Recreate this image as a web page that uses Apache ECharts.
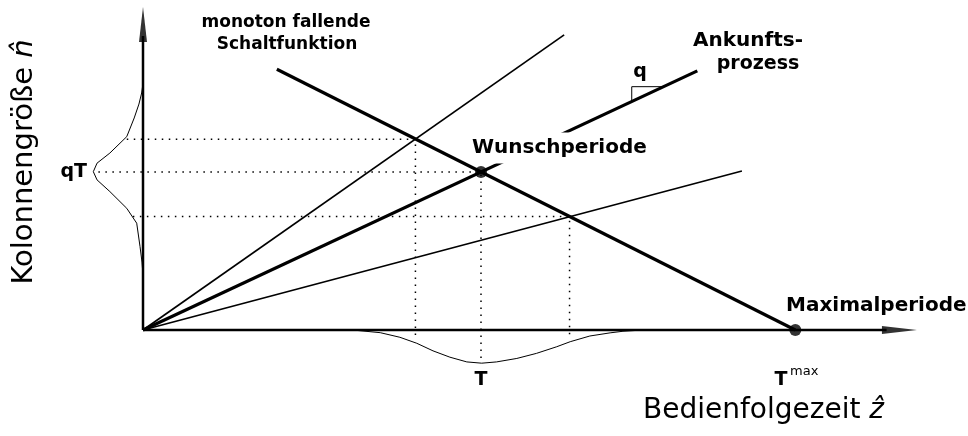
<!DOCTYPE html>
<html>
<head>
<meta charset="utf-8">
<script src="https://cdn.jsdelivr.net/npm/echarts@6/dist/echarts.min.js"></script>
<style>html,body{margin:0;padding:0;background:#fff}#c{width:968px;height:436px}</style>
</head>
<body>
<div id="c"></div>
<script>
// ---- data (x: Bedienfolgezeit units, y: Kolonnengröße units) ----
const T = 5, qT = 5, Tmax = 9.65;
const lineUpper   = [[0, 0], [6.23, 9.34]];     // thin, steep
const lineArrival = [[0, 0], [8.2, 8.2]];       // thick, slope q
const lineLower   = [[0, 0], [8.86, 5.03]];     // thin, flat
const lineSwitch  = [[1.98, 8.25], [9.65, 0]];  // monoton fallende Schaltfunktion
const markedPoints = [[T, qT], [Tmax, 0]];
const slopeTriangle = [[7.23, 7.23], [7.23, 7.7], [7.7, 7.7]];
const dottedLines = [
  [[-0.24, 6.04], [4.03, 6.04], [4.03, -0.3]],
  [[-0.66, 5.0], [5.0, 5.0], [5.0, -1.05]],
  [[-0.15, 3.59], [6.31, 3.59], [6.31, -0.17]]
];
const gaussX = [[3.1, 0], [3.51, -0.085], [3.80, -0.23], [4.05, -0.42], [4.29, -0.66], [4.54, -0.86],
  [4.79, -1.01], [5.01, -1.05], [5.23, -1.01], [5.53, -0.90], [5.82, -0.74], [6.12, -0.53],
  [6.32, -0.37], [6.61, -0.19], [6.91, -0.09], [7.10, -0.04], [7.4, 0]];
const gaussY = [[0, 7.8], [-0.02, 7.5], [-0.06, 7.15], [-0.13, 6.71], [-0.24, 6.12], [-0.49, 5.60],
  [-0.68, 5.28], [-0.735, 5.01], [-0.68, 4.75], [-0.49, 4.38], [-0.24, 3.85], [-0.093, 3.38],
  [-0.044, 2.64], [-0.015, 2.15], [0, 1.74]];
const axisX = [[0, 0], [11.0, 0]];
const axisY = [[0, 0], [0, 9.3]];
const arrowX = [11.19, 0];
const arrowY = [0, 9.67];

const chart = echarts.init(document.getElementById('c'), null, {renderer: 'canvas'});

function line(data, width, type) {
  return {
    type: 'line', data: data, symbol: 'none', silent: true, animation: false,
    lineStyle: {color: '#000', width: width, type: type || 'solid', cap: 'butt'},
    z: 3
  };
}

const series = [];
series.push(line(axisX, 2.5));
series.push(line(axisY, 2.5));
series.push(line(gaussX, 1));
series.push(line(gaussY, 1));
dottedLines.forEach(d => series.push(line(d, 1.5, [1.5, 5.5])));
series.push(line(lineUpper, 1.7));
series.push(line(lineLower, 1.7));
series.push(line(lineArrival, 3.2));
series.push(line(lineSwitch, 3.2));
series.push(line(slopeTriangle, 1));
series.push({
  type: 'scatter', data: [arrowX], symbol: 'triangle', symbolSize: [8, 35], symbolRotate: -90,
  itemStyle: {color: '#000'}, silent: true, animation: false, z: 4
});
series.push({
  type: 'scatter', data: [arrowY], symbol: 'triangle', symbolSize: [8, 35], symbolRotate: 0,
  itemStyle: {color: '#000'}, silent: true, animation: false, z: 4
});
series.push({
  type: 'scatter', data: markedPoints, symbol: 'circle', symbolSize: 12,
  itemStyle: {color: '#000'}, silent: true, animation: false, z: 5
});

const fam = '"DejaVu Sans"';
function lab(size) { return 'bold ' + size + 'px ' + fam; }
const title = '28px ' + fam;

chart.setOption({
  animation: false,
  backgroundColor: '#fff',
  grid: {left: 75.4, right: 13.8, top: 0, bottom: 42.8, containLabel: false},
  xAxis: {type: 'value', min: -1, max: 12, show: false},
  yAxis: {type: 'value', min: -2, max: 10.443, show: false},
  series: series,
  graphic: [
    {type: 'text', x: 286, y: 23, z: 100, style: {text: 'monoton fallende', font: lab(17), fill: '#000', align: 'center', verticalAlign: 'middle'}},
    {type: 'text', x: 287, y: 45, z: 100, style: {text: 'Schaltfunktion', font: lab(17), fill: '#000', align: 'center', verticalAlign: 'middle'}},
    {type: 'text', x: 748, y: 41, z: 100, style: {text: 'Ankunfts-', font: lab(20), fill: '#000', align: 'center', verticalAlign: 'middle'}},
    {type: 'text', x: 758, y: 64, z: 100, style: {text: 'prozess', font: lab(19), fill: '#000', align: 'center', verticalAlign: 'middle'}},
    {type: 'text', x: 640, y: 72, z: 100, style: {text: 'q', font: lab(19), fill: '#000', align: 'center', verticalAlign: 'middle'}},
    {type: 'text', x: 469, y: 148, z: 100, style: {text: 'Wunschperiode', font: lab(20), fill: '#000', align: 'left', verticalAlign: 'middle', backgroundColor: '#fff', padding: [6, 3, 5, 3]}},
    {type: 'text', x: 786, y: 306, z: 100, style: {text: 'Maximalperiode', font: lab(20), fill: '#000', align: 'left', verticalAlign: 'middle'}},
    {type: 'text', x: 87, y: 172, z: 100, style: {text: 'qT', font: lab(19), fill: '#000', align: 'right', verticalAlign: 'middle'}},
    {type: 'text', x: 481, y: 380, z: 100, style: {text: 'T', font: lab(19), fill: '#000', align: 'center', verticalAlign: 'middle'}},
    {type: 'text', x: 781, y: 380, z: 100, style: {text: 'T', font: lab(19), fill: '#000', align: 'center', verticalAlign: 'middle'}},
    {type: 'text', x: 790, y: 372, z: 100, style: {text: 'max', font: '13px ' + fam, fill: '#000', align: 'left', verticalAlign: 'middle'}},
    {type: 'text', x: 643, y: 425, z: 100, style: {text: '{a|Bedienfolgezeit }{b|\u1E91}', fill: '#000', align: 'left', verticalAlign: 'bottom',
      rich: {a: {font: title, fill: '#000'}, b: {font: 'italic 28px ' + fam, fill: '#000'}}}},
    {type: 'text', x: 39, y: 162, rotation: Math.PI / 2, z: 100, style: {text: '{a|Kolonnengröße }{b|n\u0302}', fill: '#000', align: 'center', verticalAlign: 'bottom',
      rich: {a: {font: '29px ' + fam, fill: '#000'}, b: {font: 'italic 29px ' + fam, fill: '#000'}}}}
  ]
});
</script>
</body>
</html>
